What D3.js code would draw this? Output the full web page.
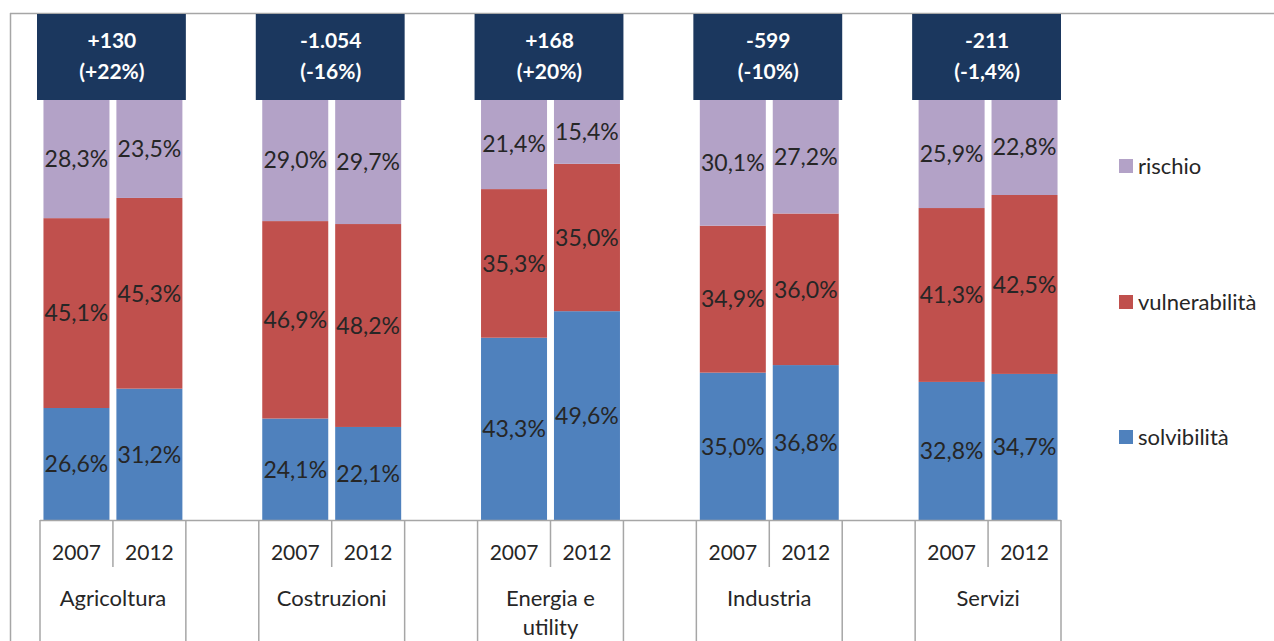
<!DOCTYPE html>
<html>
<head>
<meta charset="utf-8">
<script src="https://cdn.jsdelivr.net/npm/d3@7"></script>
<style>
  html, body { margin: 0; padding: 0; background: #fff; }
  svg { display: block; font-family: Lato, "Open Sans", sans-serif; }
</style>
</head>
<body>
<svg id="chart" width="1274" height="641"></svg>
<script>
// Sectors and years
const categories = ["Agricoltura", "Costruzioni", "Energia e utility", "Industria", "Servizi"];
const years = ["2007", "2012"];

// Share of firms per class (%), sector by sector, 2007 then 2012
const solvibilita    = [26.6, 31.2, 24.1, 22.1, 43.3, 49.6, 35.0, 36.8, 32.8, 34.7];
const vulnerabilita  = [45.1, 45.3, 46.9, 48.2, 35.3, 35.0, 34.9, 36.0, 41.3, 42.5];
const rischio        = [28.3, 23.5, 29.0, 29.7, 21.4, 15.4, 30.1, 27.2, 25.9, 22.8];

// Change in number of firms 2007-2012 per sector
const changeAbs = ["+130", "-1.054", "+168", "-599", "-211"];
const changePct = ["(+22%)", "(-16%)", "(+20%)", "(-10%)", "(-1,4%)"];

const seriesKeys = ["solvibilità", "vulnerabilità", "rischio"];
const colors = { "solvibilità": "#4f81bd", "vulnerabilità": "#c0504d", "rischio": "#b3a2c7" };

// Rows for the stack: one per sector/year bar
const rows = [];
categories.forEach((c, i) => {
  years.forEach((y, j) => {
    const k = i * 2 + j;
    rows.push({
      slot: `${i}-${j}`, cat: c, year: y,
      "solvibilità": solvibilita[k],
      "vulnerabilità": vulnerabilita[k],
      "rischio": rischio[k]
    });
  });
});

// Slots on the x axis: two bars per sector, one empty slot between sectors
const slots = [];
categories.forEach((c, i) => {
  slots.push(`${i}-0`, `${i}-1`);
  if (i < categories.length - 1) slots.push(`${i}-gap`);
});

const svg = d3.select("#chart");
const axisY = 520, topY = 99;
const left = 40, right = 1061;

const x = d3.scaleBand().domain(slots).range([left, right]).paddingInner(0.095).paddingOuter(0.0475);
const y = d3.scaleLinear().domain([0, 100]).range([axisY, topY]);
const step = x.step();
const slotStart = s => x(s) - x.paddingInner() * step / 2;

// Outer frame
const frameColor = "#a6a6a6";
svg.append("line").attr("x1", 10).attr("x2", 1274).attr("y1", 13.5).attr("y2", 13.5)
  .attr("stroke", frameColor).attr("stroke-width", 1.5);
svg.append("line").attr("x1", 10.5).attr("x2", 10.5).attr("y1", 13).attr("y2", 641)
  .attr("stroke", frameColor).attr("stroke-width", 1.5);

// Stacked bars
const stacked = d3.stack().keys(seriesKeys)(rows);
const fmt = v => d3.format(".1f")(v).replace(".", ",") + "%";

const layers = svg.append("g").selectAll("g.layer").data(stacked).join("g")
  .attr("class", "layer").attr("fill", d => colors[d.key]);

layers.selectAll("rect").data(d => d).join("rect")
  .attr("x", d => x(d.data.slot))
  .attr("width", x.bandwidth())
  .attr("y", d => y(d[1]))
  .attr("height", d => y(d[0]) - y(d[1]));

// Value labels centred in each segment
const labels = svg.append("g").attr("fill", "#262626").attr("font-size", 23)
  .attr("text-anchor", "middle");
stacked.forEach(layer => {
  layer.forEach(d => {
    labels.append("text")
      .attr("x", x(d.data.slot) + x.bandwidth() / 2)
      .attr("y", (y(d[0]) + y(d[1])) / 2)
      .attr("dy", "0.36em")
      .text(fmt(d[1] - d[0]));
  });
});

// Category axis: baseline, slot separators, year and sector labels
const axisColor = "#a6a6a6";
const ax = svg.append("g");
ax.append("line").attr("x1", left).attr("x2", right).attr("y1", axisY + 0.5).attr("y2", axisY + 0.5)
  .attr("stroke", axisColor).attr("stroke-width", 1.5);

const boundaries = [];
slots.forEach((s, i) => boundaries.push({ x: slotStart(s), short: s.endsWith("-1") }));
boundaries.push({ x: right, short: false });
ax.selectAll("line.tick").data(boundaries).join("line")
  .attr("class", "tick")
  .attr("x1", d => d.x).attr("x2", d => d.x)
  .attr("y1", axisY).attr("y2", d => d.short ? 567 : 641)
  .attr("stroke", axisColor).attr("stroke-width", 1.5);

ax.selectAll("text.year").data(rows).join("text")
  .attr("class", "year")
  .attr("x", d => x(d.slot) + x.bandwidth() / 2)
  .attr("y", 552).attr("dy", "0.36em")
  .attr("text-anchor", "middle").attr("font-size", 21).attr("fill", "#262626")
  .text(d => d.year);

const groupSpan = i => [slotStart(`${i}-0`), slotStart(`${i}-1`) + step];

const catText = ax.selectAll("text.cat").data(categories).join("text")
  .attr("class", "cat")
  .attr("text-anchor", "middle").attr("font-size", 22).attr("fill", "#262626")
  .attr("y", 598);

// Wrap sector names that do not fit in their group
catText.each(function (d, i) {
  const t = d3.select(this);
  const [a, b] = groupSpan(i);
  const cx = (a + b) / 2;
  const words = d.split(" ");
  let line = [];
  let tspan = t.append("tspan").attr("x", cx).attr("dy", "0.36em");
  words.forEach(w => {
    line.push(w);
    tspan.text(line.join(" "));
    if (tspan.node().getComputedTextLength() > 135 && line.length > 1) {
      line.pop();
      tspan.text(line.join(" "));
      line = [w];
      tspan = t.append("tspan").attr("x", cx).attr("dy", "1.32em").text(w);
    }
  });
});

// Change boxes above each sector
const boxes = svg.append("g");
categories.forEach((c, i) => {
  const [a, b] = groupSpan(i);
  const g = boxes.append("g");
  g.append("rect").attr("x", a - 3).attr("y", 14).attr("width", b - a + 3).attr("height", 86)
    .attr("fill", "#1b375e");
  g.append("text").attr("x", (a + b) / 2 - 1).attr("y", 40).attr("dy", "0.36em")
    .attr("text-anchor", "middle").attr("fill", "#fff").attr("font-weight", "bold")
    .attr("font-size", 21).text(changeAbs[i]);
  g.append("text").attr("x", (a + b) / 2 - 1).attr("y", 71).attr("dy", "0.36em")
    .attr("text-anchor", "middle").attr("fill", "#fff").attr("font-weight", "bold")
    .attr("font-size", 21).text(changePct[i]);
});

// Legend
const legendY = { "rischio": 166, "vulnerabilità": 302, "solvibilità": 437 };
const legend = svg.append("g");
["rischio", "vulnerabilità", "solvibilità"].forEach(k => {
  legend.append("rect").attr("x", 1119).attr("y", legendY[k] - 7).attr("width", 14).attr("height", 14)
    .attr("fill", colors[k]);
  legend.append("text").attr("x", 1138).attr("y", legendY[k]).attr("dy", "0.36em")
    .attr("font-size", 22).attr("fill", "#262626").text(k);
});
</script>
</body>
</html>
